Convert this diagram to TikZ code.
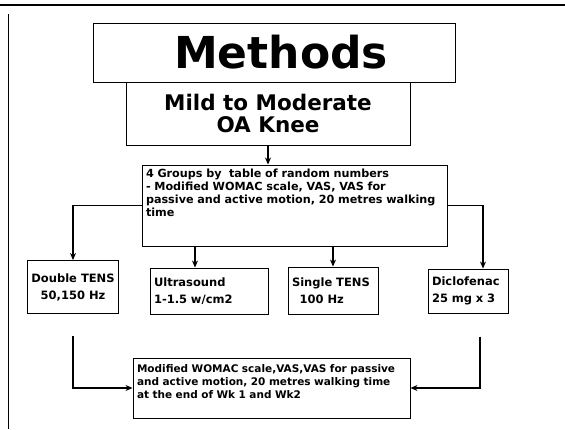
\documentclass[tikz,border=0pt]{standalone}
\usepackage{fontspec}
\setmainfont{DejaVu Sans}
\usetikzlibrary{arrows.meta}

\begin{document}
\begin{tikzpicture}[x=1pt,y=-1pt,>={Stealth[length=7pt,width=6pt]},
  box/.style={draw,line width=1pt,inner xsep=4pt,inner ysep=3pt},
  link/.style={->,line width=1.1pt},
  small/.style={font=\fontsize{11.5}{17}\selectfont\bfseries},
  tiny/.style={font=\fontsize{11.2}{13}\selectfont\bfseries}]
  \useasboundingbox (0,0) rectangle (565,429);
  \draw[line width=1.4pt] (0,5) -- (565,5);
  \draw[line width=0.9pt] (8,14) -- (8,429);
  \node[box,minimum width=362pt,minimum height=59pt,font=\fontsize{44}{46}\selectfont\bfseries] (methods) at (274,52.5) {\hspace*{14pt}Methods};
  \node[box,minimum width=284pt,minimum height=63pt,align=center,font=\fontsize{21.5}{22}\selectfont\bfseries] (mild) at (268,113.5) {Mild to Moderate\\OA Knee};
  \node[box,tiny,text width=297pt,align=left,minimum height=81pt] (groups) at (294.5,205.5)
    {4 Groups by\ \ table of random numbers\\- Modified WOMAC scale, VAS, VAS for\\passive and active motion, 20 metres walking\\time\\\mbox{}\\\mbox{}};
  \node[box,small,minimum width=90pt,minimum height=53pt,align=center] (dtens) at (73,287) {Double TENS\\50,150 Hz};
  \node[box,small,text width=110pt,minimum height=46pt,align=left] (us) at (209,291) {Ultrasound\\1-1.5 w/cm2};
  \node[box,small,text width=82pt,minimum height=47pt,align=left] (stens) at (333,290.5) {Single TENS\\\ \ 100 Hz};
  \node[box,small,text width=72pt,minimum height=44pt,align=left] (diclo) at (468,291) {Diclofenac\\25 mg x 3};
  \node[box,text width=269pt,align=left,minimum height=60pt,font=\fontsize{10.5}{13}\selectfont\bfseries] (assess) at (271.5,388)
    {Modified WOMAC scale,VAS,VAS for passive\\and active motion, 20 metres walking time\\at the end of Wk 1 and Wk2\\\mbox{}};

  \draw[link] (mild.south) -- (mild.south |- groups.north);
  \draw[link] (groups.west) -| (dtens.north);
  \draw[link] (groups.east) -| ([xshift=15pt]diclo.north);
  \draw[link] (195,0 |- groups.south) -- (195,0 |- us.north);
  \draw[link] (groups.south -| stens.north) -- (stens.north);
  \draw[link] ([yshift=-22pt]dtens.south) |- (assess.west);
  \draw[link] ([xshift=12pt,yshift=-23pt]diclo.south) |- (assess.east);
\end{tikzpicture}
\end{document}
